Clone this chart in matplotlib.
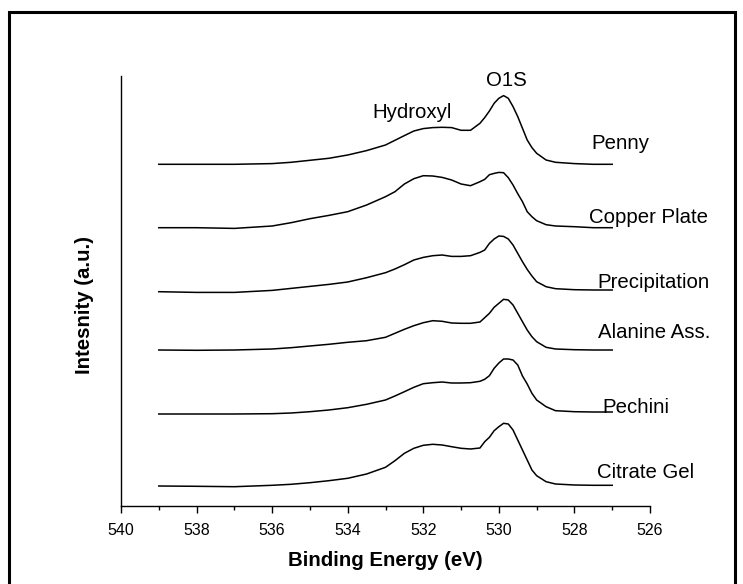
import matplotlib
matplotlib.use("Agg")
import matplotlib.pyplot as plt
from matplotlib.patches import Rectangle
import numpy as np

plt.rcParams['font.family'] = ['Liberation Sans', 'DejaVu Sans']

# Binding energy grid (eV)
energy = [539, 538, 537, 536, 535.5, 535, 534.5, 534, 533.5, 533, 532.75, 532.5,
          532.25, 532, 531.75, 531.5, 531.25, 531, 530.75, 530.5, 530.375, 530.25,
          530.125, 530, 529.875, 529.75, 529.625, 529.5, 529.375, 529.25, 529.125,
          529, 528.75, 528.5, 528, 527.5, 527]

# Baseline-subtracted O1s intensities (a.u.)
penny = [0, 0, 0, 0.7, 2, 4, 6, 9.3, 13.7, 19.3, 24, 28.7, 33.3, 35.7, 36.7, 37,
         36.7, 34, 34, 41, 46.7, 53.3, 61, 66, 68.7, 66, 57.7, 47.7, 36, 24.3, 16.7,
         11, 4.3, 2, 0.7, 0, 0]
copper_plate = [0, 0, -0.7, 1.7, 5, 9, 12.3, 16, 22.7, 31, 36, 43.7, 49, 52, 51.7,
                50.3, 47.7, 43.7, 42, 46, 48.3, 53, 54.3, 55.3, 55, 50, 42.7, 34, 26,
                16, 11, 7, 3, 1.7, 1, 0, 0]
precipitation = [0, -0.7, -0.7, 1.3, 3.3, 5.3, 7.3, 9.7, 14, 19, 22.7, 27, 31.7,
                 34.3, 36, 36.7, 35.3, 35.3, 36, 39.3, 41.7, 48.3, 52.7, 55.7, 55.3,
                 52.7, 46.7, 38.3, 30, 22.3, 15.7, 10, 5, 3, 2, 1.7, 1.7]
alanine = [0, -0.3, 0, 1, 2.3, 4, 5.7, 7.7, 9.3, 12.7, 16.7, 20.7, 24.3, 27.3, 29.3,
           28.7, 27, 26.7, 26.7, 28, 32.3, 36.7, 42.7, 46.7, 50.7, 50, 45, 36.7, 28.3,
           20, 13.3, 8.3, 2.7, 1, 0.3, 0, 0]
pechini = [0, 0, 0, 0.3, 1, 2.3, 4, 6.3, 9.7, 14, 18, 22.3, 26.7, 30.3, 31.3, 32, 31,
           31, 31.3, 32.7, 34.7, 38.3, 45.7, 51, 55, 55, 54, 49, 38, 30, 20.7, 14,
           7.3, 3.3, 2.3, 2, 2]
citrate_gel = [0, -0.3, -0.7, 0.7, 1.7, 3.3, 5.3, 7.7, 12, 18.7, 25.3, 32.7, 37.7,
               40.7, 41.7, 41, 39.3, 37.7, 37, 38, 44.3, 48.7, 55.3, 59.3, 62.7, 62,
               56, 46, 36, 26, 16, 10.3, 4.3, 2, 1, 0.7, 0.7]

series = [penny, copper_plate, precipitation, alanine, pechini, citrate_gel]
names = ["Penny", "Copper Plate", "Precipitation", "Alanine Ass.", "Pechini", "Citrate Gel"]
offsets = [341.7, 278.3, 214.3, 156, 92, 20]

# Label anchors (eV, intensity)
label_x = [527.54, 527.62, 527.38, 527.38, 527.27, 527.40]
label_y = [357, 283, 218, 168, 93, 28]

fig = plt.figure(figsize=(7.43, 5.84), dpi=100)
ax = fig.add_axes([121 / 743, 1 - 506 / 584, (650 - 121) / 743, (506 - 76) / 584])

e = np.array(energy)
for vals, off in zip(series, offsets):
    ax.plot(e, np.array(vals) + off, color="black", lw=1.1)

for name, lx, ly in zip(names, label_x, label_y):
    ax.text(lx, ly, name, fontsize=14.7, ha="left", va="baseline")

ax.text(532.29, 388, "Hydroxyl", fontsize=14.7, ha="center", va="baseline")
ax.text(529.81, 420, "O1S", fontsize=14.7, ha="center", va="baseline")

ax.set_xlim(540, 526)
ax.set_ylim(0, 430)
ax.set_xticks(np.arange(540, 525, -2))
ax.set_xticks(np.arange(539, 526, -2), minor=True)
ax.tick_params(axis="x", which="major", direction="out", length=5, width=1,
               labelsize=11.5, pad=7)
ax.tick_params(axis="x", which="minor", direction="out", length=3, width=1)
ax.set_yticks([])
for side in ("top", "right"):
    ax.spines[side].set_visible(False)
for side in ("left", "bottom"):
    ax.spines[side].set_linewidth(1.0)

fig.text(385.5 / 743, 1 - 561 / 584, "Binding Energy (eV)", fontsize=14.7,
         fontweight="bold", ha="center", va="center")
fig.text(85 / 743, 1 - 305 / 584, "Intesnity (a.u.)", fontsize=14.7,
         fontweight="bold", rotation=90, ha="center", va="center")

# Outer frame
fig.patches.append(Rectangle((8.5 / 743, -0.2), (734.5 - 8.5) / 743, 1.2 - 12 / 584,
                             transform=fig.transFigure, fill=False,
                             edgecolor="black", linewidth=2.2))

fig.savefig("out.png", dpi=100)
